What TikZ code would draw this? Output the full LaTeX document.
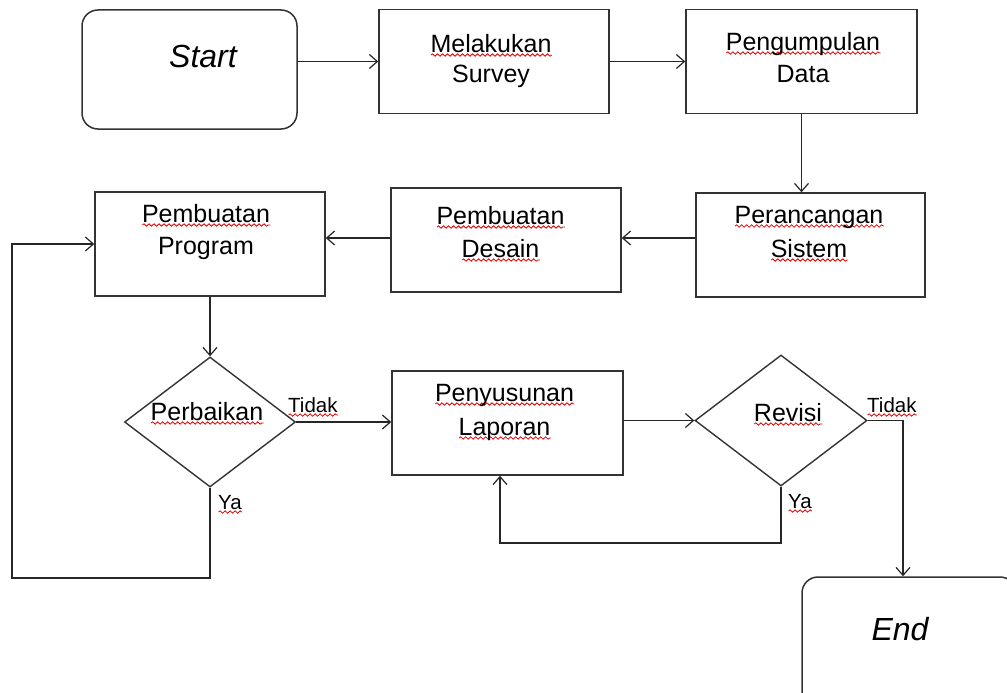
\documentclass[tikz,border=0pt]{standalone}
\usepackage{fontspec}
\setmainfont{Liberation Sans}
\usetikzlibrary{shapes.geometric,arrows.meta,decorations.pathmorphing}
% red wavy underline, as a spell checker draws it
\newsavebox\wavebox
\newcommand\spellwave[1]{\sbox\wavebox{#1}\leavevmode\rlap{\tikz[x=1pt,y=1pt,baseline=0pt]\draw[red!90!black,line width=0.8pt,decorate,decoration={snake,amplitude=1.2pt,segment length=5pt}] (0,-3) -- (\the\wd\wavebox,-3);}\usebox\wavebox}

\begin{document}
\begin{tikzpicture}[x=1pt,y=-1pt,
  box/.style={draw=black!80,line width=1.5pt,inner sep=0pt,minimum width=230pt,minimum height=104pt},
  term/.style={box,rounded corners=16pt},
  decision/.style={diamond,draw=black!80,line width=1.4pt,inner sep=0pt,minimum width=171pt,minimum height=130pt},
  txt/.style={inner sep=0pt,anchor=base,align=center,font=\fontsize{25}{33}\selectfont},
  lbl/.style={inner sep=0pt,anchor=base west,font=\fontsize{20.5}{24}\selectfont},
  ttl/.style={inner sep=0pt,anchor=base,font=\fontsize{32}{38}\selectfont\itshape},
  flow/.style={draw=black!85,line width=1.2pt,-{Straight Barb[length=8pt,width=14pt]}}]
\useasboundingbox (0,0) rectangle (1007,693);
\clip (0,0) rectangle (1007,693);

% process boxes and terminals (text nodes sit on the baseline of their last line)
\node[term,minimum width=215pt,minimum height=119pt] (start) at (189.5,69.5) {};
\node[ttl] (start-t) at (203,68) {Start};
\node[box] (survey) at (494,61.5) {};
\node[txt] (survey-t) at (491,82) {\spellwave{Melakukan}\\[-3pt]Survey};
\node[box,minimum width=231pt] (data) at (801.5,61.5) {};
\node[txt] (data-t) at (803,82) {\spellwave{Pengumpulan}\\[-1pt]Data};
\node[box,minimum width=229pt] (sistem) at (810.5,245) {};
\node[txt] (sistem-t) at (809,257) {\spellwave{Perancangan}\\[1pt]\spellwave{Sistem}};
\node[box] (desain) at (506,240) {};
\node[txt] (desain-t) at (500.5,257) {\spellwave{Pembuatan}\\\spellwave{Desain}};
\node[box] (program) at (210,244) {};
\node[txt] (program-t) at (206,254) {\spellwave{Pembuatan}\\[-1pt]Program};
\node[box,minimum width=231pt] (laporan) at (507.5,423) {};
\node[txt] (laporan-t) at (504.5,435) {\spellwave{Penyusunan}\\[1pt]\spellwave{Laporan}};
\node[decision] (perbaikan) at (210,422) {};
\node[txt] (perbaikan-t) at (207,420) {\spellwave{Perbaikan}};
\node[decision,minimum width=172pt,minimum height=131pt] (revisi) at (781,420.5) {};
\node[txt] (revisi-t) at (788,421) {\spellwave{Revisi}};
\node[term,minimum width=214pt,minimum height=130pt] (end) at (909,642) {};
\node[ttl] (end-t) at (900,640) {End};

% branch labels
\node[lbl] (tidak1) at (288,412) {\spellwave{Tidak}};
\node[lbl] (ya1) at (218,509) {\spellwave{Ya}};
\node[lbl] (tidak2) at (867,412) {\spellwave{Tidak}};
\node[lbl] (ya2) at (788,508) {\spellwave{Ya}};

% helper points for the elbow routes
\coordinate (row2) at (0,238);
\coordinate (loopL) at (12,578);
\coordinate (endin) at (903,0);
\coordinate (loopR) at (500,543);

% connectors
\draw[flow] (start.east |- survey.west) -- (survey.west);
\draw[flow] (survey.east) -- (data.west);
\draw[flow] (data.south) -- (data.south |- sistem.north);
\draw[flow] (sistem.west |- row2) -- (desain.east |- row2);
\draw[flow] (desain.west |- row2) -- (program.east |- row2);
\draw[flow] (perbaikan.north |- program.south) -- (perbaikan.north);
\draw[flow] (perbaikan.east) -- (laporan.west |- perbaikan.east);
\draw[flow] (perbaikan.south) |- (loopL) |- (program.west);
\draw[flow] (laporan.east |- revisi.west) -- (revisi.west);
\draw[flow] (revisi.east) -| (endin |- end.north);
\draw[flow] (revisi.south) |- (loopR) -- (loopR |- laporan.south);
\end{tikzpicture}
\end{document}
